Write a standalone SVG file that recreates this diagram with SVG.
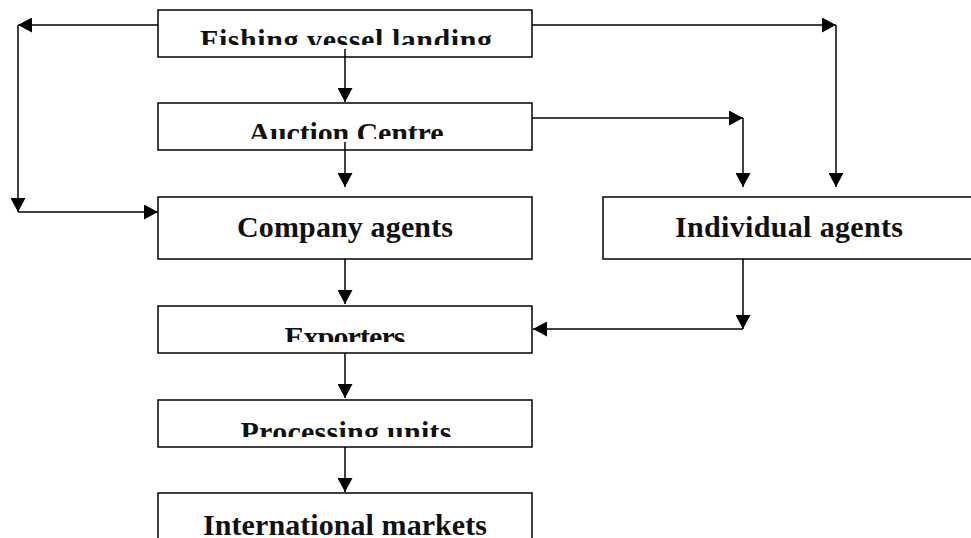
<svg xmlns="http://www.w3.org/2000/svg" width="971" height="538" viewBox="0 0 971 538">
<style>
.box{fill:#fff;stroke:#000;stroke-width:1.5}
.lbl{font-family:"Liberation Serif","Times New Roman",serif;font-weight:bold;font-size:30px;fill:#111;text-anchor:middle}
.con{fill:none;stroke:#000;stroke-width:1.5;marker-end:url(#ah)}
</style>
<defs>
<marker id="ah" markerUnits="userSpaceOnUse" markerWidth="15" markerHeight="15" refX="14" refY="7.5" orient="auto">
<path d="M0,0 L14,7.5 L0,15 z" fill="#000"/>
</marker>
<clipPath id="c1"><rect x="159" y="11" width="372" height="34"/></clipPath>
<clipPath id="c2"><rect x="159" y="104" width="372" height="35"/></clipPath>
<clipPath id="c4"><rect x="159" y="307" width="372" height="35"/></clipPath>
<clipPath id="c5"><rect x="159" y="401" width="372" height="36"/></clipPath>
<clipPath id="c6"><rect x="159" y="494" width="372" height="43"/></clipPath>
</defs>
<rect width="971" height="538" fill="#fff"/>
<g id="fishing">
<rect class="box" x="158" y="10" width="374" height="47"/>
<text class="lbl" x="346" y="50" clip-path="url(#c1)" textLength="292">Fishing vessel landing</text>
</g>
<g id="auction">
<rect class="box" x="158" y="103" width="374" height="47"/>
<text class="lbl" x="346" y="143" clip-path="url(#c2)" textLength="195">Auction Centre</text>
</g>
<g id="company">
<rect class="box" x="158" y="197" width="374" height="62"/>
<text class="lbl" x="345" y="237" textLength="216">Company agents</text>
</g>
<g id="individual">
<rect class="box" x="603" y="197" width="374" height="62"/>
<text class="lbl" x="789" y="237" textLength="228">Individual agents</text>
</g>
<g id="exporters">
<rect class="box" x="158" y="306" width="374" height="47"/>
<text class="lbl" x="345" y="347" clip-path="url(#c4)" textLength="121">Exporters</text>
</g>
<g id="processing">
<rect class="box" x="158" y="400" width="374" height="47"/>
<text class="lbl" x="346" y="442" clip-path="url(#c5)" textLength="211">Processing units</text>
</g>
<g id="international">
<rect class="box" x="158" y="493" width="374" height="60"/>
<text class="lbl" x="345" y="535" clip-path="url(#c6)" textLength="284">International markets</text>
</g>
<g id="connectors">
<path class="con" d="M158,25 H18"/>
<path class="con" d="M18,25 V212"/>
<path class="con" d="M18,212 H158"/>
<path class="con" d="M532,25 H836"/>
<path class="con" d="M836,25 V187"/>
<path class="con" d="M345,49 V102"/>
<path class="con" d="M345,142 V187"/>
<path class="con" d="M532,118 H743"/>
<path class="con" d="M743,118 V187"/>
<path class="con" d="M345,259 V304"/>
<path class="con" d="M743,259 V329"/>
<path class="con" d="M743,329 H533"/>
<path class="con" d="M345,353 V398"/>
<path class="con" d="M345,447 V492"/>
</g>
</svg>
